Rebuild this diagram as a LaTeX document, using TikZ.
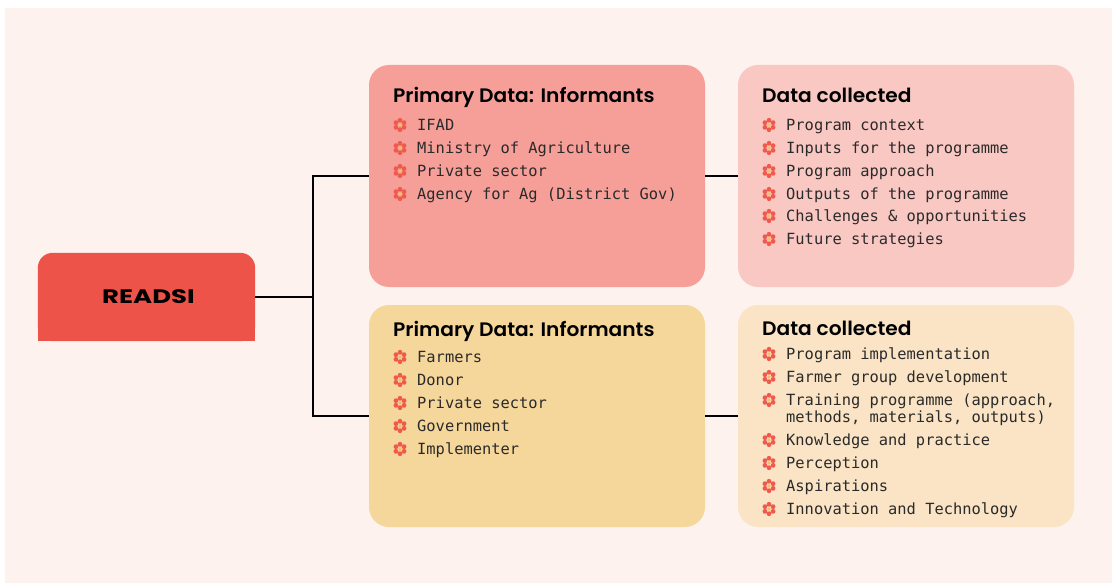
\documentclass[tikz,border=0pt]{standalone}
\usepackage{fontspec}
\usepackage{graphicx}
\newfontfamily\headfont{Poppins}[UprightFont=* SemiBold]
\newfontfamily\rootfont{Poppins}[UprightFont=* Bold]
\newfontfamily\listfont{DejaVu Sans Mono}

\definecolor{bgcream}{HTML}{FDF2EE}
\definecolor{readsired}{HTML}{EE534A}
\definecolor{roseA}{HTML}{F69F98}
\definecolor{roseB}{HTML}{F9C8C3}
\definecolor{sandA}{HTML}{F5D69B}
\definecolor{sandB}{HTML}{FAE4C5}
\definecolor{petalred}{HTML}{EF5A4F}
\definecolor{pistilgold}{HTML}{F2C15B}
\definecolor{inkdark}{HTML}{2A2A2A}

\tikzset{
  panel/.style={draw=none, rounded corners=20pt, inner sep=0pt,
    minimum width=336pt, minimum height=222pt},
  link/.style={draw=black, line width=2pt},
  heading/.style={anchor=base west, inner sep=0pt, text=black,
    font=\headfont\fontsize{19.5}{24}\selectfont},
  item/.style={anchor=mid west, inner sep=0pt, text=inkdark,
    font=\listfont\fontsize{15.4}{17}\selectfont},
  flower/.pic={
    \foreach \a in {30,90,...,330} \fill[petalred] (\a:4.7) circle (2.4);
    \fill[pistilgold] (0,0) circle (1.8);
  }
}

% one bullet line: name, y of the text middle, x of the panel's text column, text
\newcommand\listline[4]{%
  \node[item] (#1) at (#3+24,#2+3) {#4};
  \pic at (#3+7,#2) {flower};
}
% headings are set a little wider than the font's natural width
\newcommand\headtext[1]{\scalebox{1.035}[1]{#1}}

\begin{document}
\begin{tikzpicture}[x=1pt,y=-1pt]
\useasboundingbox (0,0) rectangle (1112,583);
\fill[bgcream] (5,8) rectangle (1112,583);

% root box: rounded on top, square at the bottom
\node[draw=none, inner sep=0pt, minimum width=217pt, minimum height=88pt]
  (readsi) at (146.5,297) {};
\fill[readsired, rounded corners=15pt] (readsi.south west) rectangle (readsi.north east);
\fill[readsired] (readsi.south west) rectangle (readsi.east);
\node[inner sep=0pt, font=\rootfont\fontsize{19.5}{24}\selectfont]
  (readsilabel) at (148.5,297) {\scalebox{1.33}[1]{READSI}};

% panels
\node[panel, fill=roseA] (infoA) at (537,176) {};
\node[panel, fill=roseB] (dataA) at (906,176) {};
\node[panel, fill=sandA] (infoB) at (537,416) {};
\node[panel, fill=sandB] (dataB) at (906,416) {};

% connectors
\coordinate (fork) at (313,297);
\draw[link] (readsi.east) -- (fork);
\draw[link] (infoA.west) -| (fork) |- (infoB.west);
\draw[link] (infoA.east) -- (dataA.west);
\draw[link] (infoB.east) -- (dataB.west);

% upper informants
\node[heading] (infoAtitle) at (393,103) {\headtext{Primary Data: Informants}};
\listline{ifad}{125}{393}{IFAD}
\listline{moa}{148}{393}{Ministry of Agriculture}
\listline{privA}{171}{393}{Private sector}
\listline{agency}{194}{393}{Agency for Ag (District Gov)}

% upper data collected
\node[heading] (dataAtitle) at (762,103) {\headtext{Data collected}};
\listline{context}{125}{762}{Program context}
\listline{inputs}{148}{762}{Inputs for the programme}
\listline{approach}{171}{762}{Program approach}
\listline{outputs}{194}{762}{Outputs of the programme}
\listline{challenges}{216}{762}{Challenges \& opportunities}
\listline{future}{239}{762}{Future strategies}

% lower informants
\node[heading] (infoBtitle) at (393,336) {\headtext{Primary Data: Informants}};
\listline{farmers}{357}{393}{Farmers}
\listline{donor}{380}{393}{Donor}
\listline{privB}{403}{393}{Private sector}
\listline{gov}{426}{393}{Government}
\listline{impl}{449}{393}{Implementer}

% lower data collected
\node[heading] (dataBtitle) at (762,335) {\headtext{Data collected}};
\listline{implementation}{354}{762}{Program implementation}
\listline{groups}{377}{762}{Farmer group development}
\listline{training}{400}{762}{Training programme (approach,}
\node[item] (trainingcont) at (786,420) {methods, materials, outputs)};
\listline{knowledge}{440}{762}{Knowledge and practice}
\listline{perception}{463}{762}{Perception}
\listline{aspirations}{486}{762}{Aspirations}
\listline{innovation}{509}{762}{Innovation and Technology}
\end{tikzpicture}
\end{document}
